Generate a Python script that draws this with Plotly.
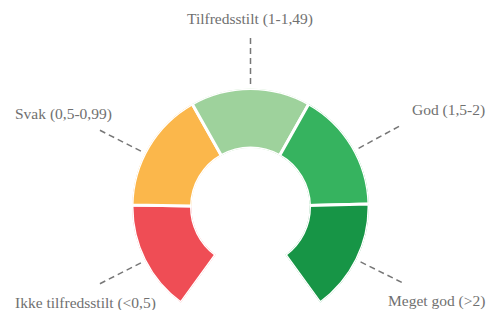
import math
import plotly.graph_objects as go

# ---- data ----
categories = ["Ikke tilfredsstilt (<0,5)", "Svak (0,5-0,99)", "Tilfredsstilt (1-1,49)",
              "God (1,5-2)", "Meget god (>2)"]
spans_deg = [55, 59.5, 59, 59, 55.5]          # angular size of each band
colors = ["#EF4D55", "#FBB74B", "#9ED29C", "#36B35F", "#179546"]
label_angles = [207, 153, 90, 28.5, -26.5]     # leader-line directions

# ---- geometry (pixels) ----
W, H = 488, 310
cx, cy = 250.5, 207.0
R_out = 118.5
R_in = 59.0
start_angle = 234.0
end_angle = start_angle - sum(spans_deg)

# theta centres
thetas = []
a = start_angle
for s in spans_deg:
    thetas.append(a - s / 2)
    a -= s

# polar domain from the sector bounding box
ymin_unit = min(math.sin(math.radians(start_angle)), math.sin(math.radians(end_angle)))
dom_x = [(cx - R_out) / W, (cx + R_out) / W]
dom_y = [1 - (cy - ymin_unit * R_out) / H, 1 - (cy - R_out) / H]

fig = go.Figure()
fig.add_trace(go.Barpolar(
    r=[1] * len(categories),
    theta=thetas,
    width=spans_deg,
    base=0,
    marker=dict(color=colors, line=dict(color="white", width=3)),
    hoverinfo="skip",
    showlegend=False,
))

fig.update_layout(
    width=W, height=H,
    margin=dict(l=0, r=0, t=0, b=0),
    paper_bgcolor="white",
    plot_bgcolor="white",
    polar=dict(
        domain=dict(x=dom_x, y=dom_y),
        sector=[end_angle, start_angle],
        hole=R_in / R_out,
        bgcolor="rgba(0,0,0,0)",
        radialaxis=dict(visible=False, range=[0, 1]),
        angularaxis=dict(visible=False, rotation=0, direction="counterclockwise"),
    ),
)

def px2paper(x, y):
    return x / W, 1 - y / H

r1, r2 = 123, 173
shapes = []
annotations = []
font = dict(family="Liberation Serif, Times New Roman, serif", size=15.5, color="#707070")
for cat, ang in zip(categories, label_angles):
    t = math.radians(ang)
    x1, y1 = cx + r1 * math.cos(t), cy - r1 * math.sin(t)
    x2, y2 = cx + r2 * math.cos(t), cy - r2 * math.sin(t)
    p1 = px2paper(x1, y1)
    p2 = px2paper(x2, y2)
    shapes.append(dict(type="line", xref="paper", yref="paper",
                       x0=p1[0], y0=p1[1], x1=p2[0], y1=p2[1],
                       line=dict(color="#777777", width=1.5, dash="6px,4px")))
    if abs(math.cos(t)) < 0.2:
        lx, xa = x2, "center"
        ly = y2 - 15
    elif math.cos(t) < 0:
        lx, xa = 13, "left"
        ly = y2 - 14 if math.sin(t) > 0 else y2 + 17
    else:
        lx, xa = 487, "right"
        ly = y2 - 14 if math.sin(t) > 0 else y2 + 17
    px_, py_ = px2paper(lx, ly)
    annotations.append(dict(text=cat, x=px_, y=py_, xref="paper", yref="paper",
                            xanchor=xa, yanchor="middle", showarrow=False, font=font))

fig.update_layout(shapes=shapes, annotations=annotations)
fig.write_html("out.html",
               config={"displayModeBar": False, "staticPlot": True},
               post_script="document.body.style.margin='0';document.body.style.overflow='hidden';")
